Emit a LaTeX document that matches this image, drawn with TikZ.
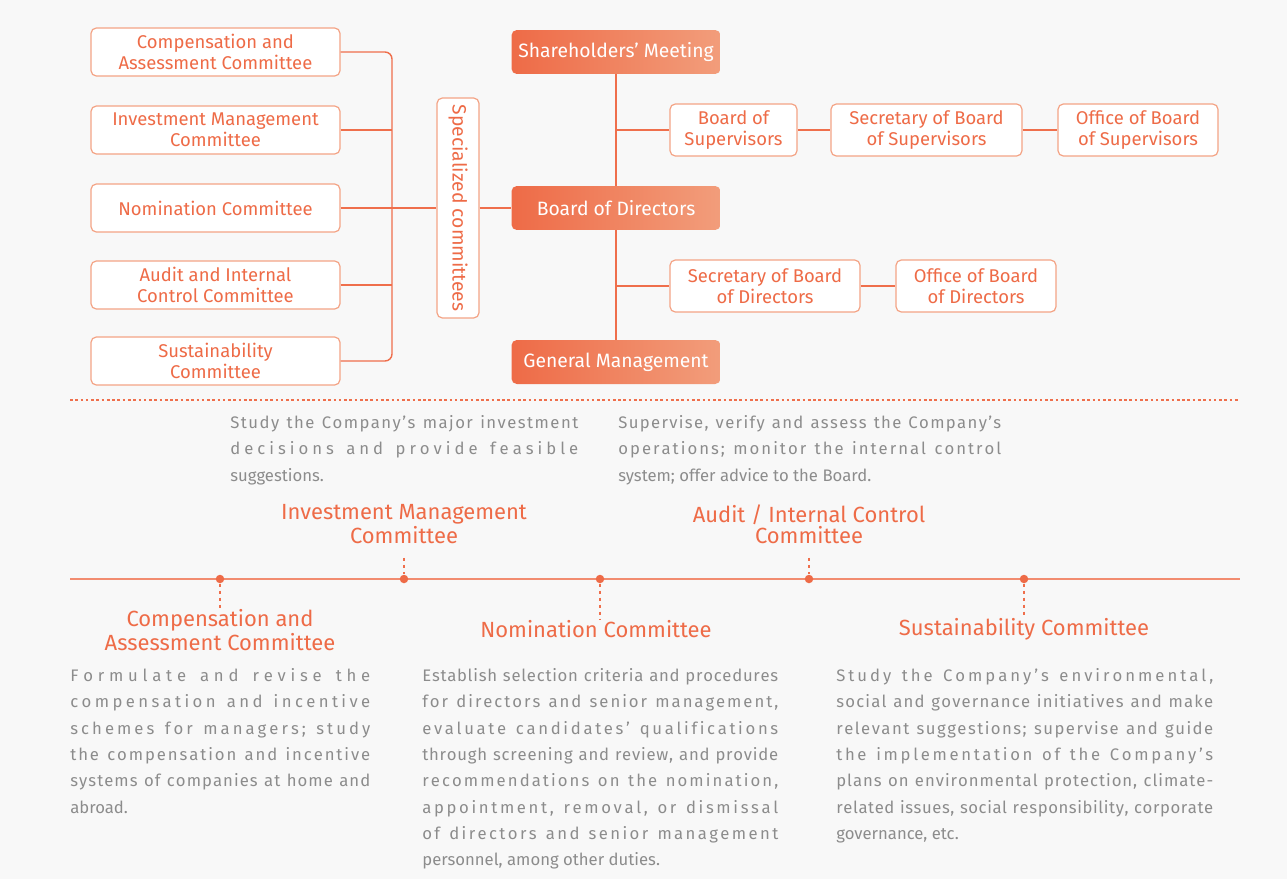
\documentclass[tikz,border=0pt]{standalone}
\usepackage{fontspec}
\setmainfont{Fira Sans}
\usetikzlibrary{positioning}

\definecolor{brand}{HTML}{EE6B47}
\definecolor{brandend}{HTML}{F29D7B}
\definecolor{brandlight}{HTML}{F4A486}
\definecolor{brandline}{HTML}{EF6F4C}
\definecolor{bodygray}{HTML}{8C8C8C}
\definecolor{bgc}{HTML}{F8F8F8}

% one tracked, justified line of a description
\ExplSyntaxOn
\NewDocumentCommand{\jl}{m}
  {\makebox[\hsize][s]{\str_map_inline:nn{#1}{##1\hskip 0pt plus 1fil\relax}\unskip}\\}
\ExplSyntaxOff

\tikzset{
  outbox/.style={draw=brandlight, line width=0.7pt, fill=white, rounded corners=3pt,
    text=brand, align=center, inner sep=0pt,
    font=\fontsize{10.5}{12}\selectfont},
  headbox/.style={rounded corners=3pt, left color=brand, right color=brandend,
    text=white, align=center, inner sep=0pt, minimum width=4.18cm, minimum height=0.88cm,
    font=\fontsize{11}{13}\selectfont},
  link/.style={draw=brandline, line width=0.8pt},
  dot/.style={circle, fill=brand, inner sep=0pt, minimum size=0.17cm},
  stem/.style={draw=brandline, line width=0.6pt, dash pattern=on 2pt off 2pt},
  tlabel/.style={text=brand, align=center, inner sep=0pt,
    font=\fontsize{12.5}{12}\selectfont},
  desc/.style={text=bodygray, align=justify, inner sep=0pt, anchor=north west,
    font=\fontsize{9.5}{15}\selectfont}
}

\begin{document}
\begin{tikzpicture}[x=0.02cm, y=-0.02cm]
    % background
    \fill[bgc] (0,0) rectangle (1287,879);

    % Main chain
    \node[headbox] (sm)  at (616,52)  {Shareholders' Meeting};
    \node[headbox] (bod) at (616,208) {Board of Directors};
    \node[headbox] (gm)  at (616,362) {General Management};
    \draw[link] (sm) -- (bod);
    \draw[link] (bod) -- (gm);

    % Supervisors branch
    \node[outbox, minimum width=2.54cm, minimum height=1.04cm] (sup) at (733.5,130) {Board of\\Supervisors};
    \node[outbox, minimum width=3.82cm, minimum height=1.04cm] (secsup) at (926.5,130) {Secretary of Board\\of Supervisors};
    \node[outbox, minimum width=3.2cm, minimum height=1.04cm] (offsup) at (1138,130) {Office of Board\\of Supervisors};
    \draw[link] (sup.west -| sm.south) -- (sup.west);
    \draw[link] (sup) -- (secsup);
    \draw[link] (secsup) -- (offsup);

    % Directors branch
    \node[outbox, minimum width=3.8cm, minimum height=1.04cm] (secdir) at (765,286) {Secretary of Board\\of Directors};
    \node[outbox, minimum width=3.2cm, minimum height=1.04cm] (offdir) at (976,286) {Office of Board\\of Directors};
    \draw[link] (secdir.west -| sm.south) -- (secdir.west);
    \draw[link] (secdir) -- (offdir);

    % Specialized committees
    \node[outbox, rotate=-90, minimum width=4.4cm, minimum height=0.84cm,
          font=\fontsize{11}{13}\selectfont] (spec) at (458,208) {Specialized committees};
    \draw[link] (spec.north) -- (bod.west);

    \node[outbox, minimum width=4.98cm, minimum height=0.96cm] (c1) at (215.5,52)  {Compensation and\\Assessment Committee};
    \node[outbox, minimum width=4.98cm, minimum height=0.96cm] (c2) at (215.5,130) {Investment Management\\Committee};
    \node[outbox, minimum width=4.98cm, minimum height=0.96cm] (c3) at (215.5,208) {Nomination Committee};
    \node[outbox, minimum width=4.98cm, minimum height=0.96cm] (c4) at (215.5,285) {Audit and Internal\\Control Committee};
    \node[outbox, minimum width=4.98cm, minimum height=0.96cm] (c5) at (215.5,361) {Sustainability\\Committee};

    \coordinate (busT) at (392,52);
    \coordinate (busB) at (392,361);
    \draw[link, rounded corners=4pt] (c1.east) -- (busT) -- (busB) -- (c5.east);
    \draw[link] (c2.east) -- (c2.east -| busT);
    \draw[link] (c3.east) -- (spec.south);
    \draw[link] (c4.east) -- (c4.east -| busT);

    % Separator
    \coordinate (sepL) at (70,400);
    \coordinate (sepR) at (1240,400);
    \draw[stem, dash pattern=on 1.5pt off 1.5pt] (sepL) -- (sepR);

    % Timeline
    \coordinate (tlL) at (70,579);
    \coordinate (tlR) at (1240,579);
    \draw[draw=brandline!80, line width=0.8pt] (tlL) -- (tlR);

    \node[dot] (d1) at (220,579) {};
    \node[dot] (d2) at (404,579) {};
    \node[dot] (d3) at (600,579) {};
    \node[dot] (d4) at (809,579) {};
    \node[dot] (d5) at (1024,579) {};

    \node[tlabel] (l1) at (220,630)  {Compensation and\\Assessment Committee};
    \node[tlabel] (l2) at (404,524)  {Investment Management\\Committee};
    \node[tlabel] (l3) at (596,629)  {Nomination Committee};
    \node[tlabel] (l4) at (809,524)  {Audit / Internal Control\\Committee};
    \node[tlabel] (l5) at (1024,629) {Sustainability Committee};

    \draw[stem] (d1) -- (d1 |- l1.north);
    \draw[stem, shorten <=8pt] (d2 |- l2.south) -- (d2);
    \draw[stem] (d3) -- (d3 |- l3.north);
    \draw[stem, shorten <=8pt] (d4 |- l4.south) -- (d4);
    \draw[stem] (d5) -- (d5 |- l5.north);

    % Descriptions
    \node[desc, text width=6.96cm] (t2) at (230,415) {%
      \jl{Study the Company's major investment}
      \jl{decisions and provide feasible}
      suggestions.};
    \node[desc, text width=7.66cm] (t4) at (618,415) {%
      \jl{Supervise, verify and assess the Company's}
      \jl{operations; monitor the internal control}
      system; offer advice to the Board.};
    \node[desc, text width=6.0cm] (t1) at (70,668) {%
      \jl{Formulate and revise the}
      \jl{compensation and incentive}
      \jl{schemes for managers; study}
      \jl{the compensation and incentive}
      \jl{systems of companies at home and}
      abroad.};
    \node[desc, text width=7.12cm] (t3) at (422,668) {%
      \jl{Establish selection criteria and procedures}
      \jl{for directors and senior management,}
      \jl{evaluate candidates' qualifications}
      \jl{through screening and review, and provide}
      \jl{recommendations on the nomination,}
      \jl{appointment, removal, or dismissal}
      \jl{of directors and senior management}
      personnel, among other duties.};
    \node[desc, text width=7.54cm] (t5) at (836,668) {%
      \jl{Study the Company's environmental,}
      \jl{social and governance initiatives and make}
      \jl{relevant suggestions; supervise and guide}
      \jl{the implementation of the Company's}
      \jl{plans on environmental protection, climate-}
      \jl{related issues, social responsibility, corporate}
      governance, etc.};
\end{tikzpicture}
\end{document}
